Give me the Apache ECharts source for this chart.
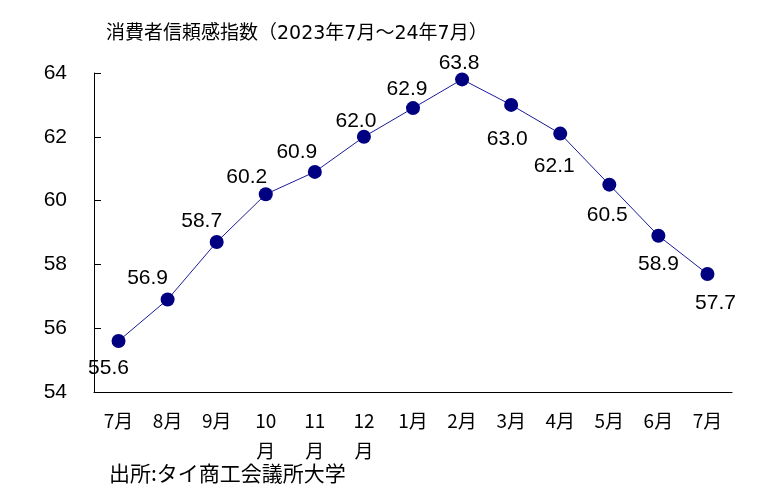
<!DOCTYPE html>
<html>
<head>
<meta charset="utf-8">
<script src="https://cdn.jsdelivr.net/npm/echarts@6/dist/echarts.min.js"></script>
<style>
  html, body { margin: 0; padding: 0; background: #fff; }
  #container { width: 777px; height: 503px; }
</style>
</head>
<body>
<div id="container"></div>
<script>
// 月ラベルと指数
var months = ['7月', '8月', '9月', '10月', '11月', '12月', '1月', '2月', '3月', '4月', '5月', '6月', '7月'];
var values = [55.6, 56.9, 58.7, 60.2, 60.9, 62.0, 62.9, 63.8, 63.0, 62.1, 60.5, 58.9, 57.7];
var yTicks = [54, 56, 58, 60, 62, 64];
// ラベルのずらし量 (点の中心から)
var labelOffsets = [[-10, 27], [-20, -21], [-15, -21], [-19, -17], [-18, -20], [-8, -16], [-6, -19],
                    [-3, -16], [-4, 34], [-6, 33], [-2, 31], [0, 29], [8, 29]];

var numFont = '"Liberation Sans", Arial, sans-serif';
var jpFont = '"Noto Sans CJK JP", sans-serif';
var titleFont = '"DejaVu Sans", "Noto Sans CJK JP", sans-serif';

var dom = document.getElementById('container');
var myChart = echarts.init(dom);

var seriesData = values.map(function (v, i) {
    return {
        value: v,
        label: { offset: labelOffsets[i] }
    };
});

var option = {
    animation: false,
    title: [{
        text: '消費者信頼感指数（2023年7月～24年7月）',
        left: 101,
        top: 20,
        textStyle: { fontFamily: titleFont, fontSize: 19, fontWeight: 'normal', color: '#000' }
    }, {
        text: '出所:タイ商工会議所大学',
        left: 104,
        top: 458,
        textStyle: { fontFamily: jpFont, fontSize: 21, fontWeight: 'normal', color: '#000' }
    }],
    grid: { left: 94, right: 45, top: 73, bottom: 111 },
    xAxis: {
        type: 'category',
        data: months,
        boundaryGap: true,
        axisLine: { lineStyle: { color: '#000', width: 1 } },
        axisTick: { inside: true, length: 8, lineStyle: { color: '#000' } },
        axisLabel: {
            color: '#000',
            fontFamily: jpFont,
            fontSize: 19,
            margin: 14,
            lineHeight: 30,
            interval: 0,
            formatter: function (s) {
                return s.length > 2 ? s.slice(0, s.length - 1) + '\n' + s.slice(-1) : s;
            }
        }
    },
    yAxis: {
        type: 'value',
        min: yTicks[0],
        max: yTicks[yTicks.length - 1],
        interval: 2,
        axisLine: { show: true, lineStyle: { color: '#000', width: 1 } },
        axisTick: { show: true, inside: true, length: 7, lineStyle: { color: '#000' } },
        splitLine: { show: false },
        axisLabel: { color: '#000', fontFamily: numFont, fontSize: 21, margin: 27 }
    },
    series: [{
        type: 'line',
        data: seriesData,
        symbol: 'circle',
        symbolSize: 14,
        lineStyle: { color: '#1a1a99', width: 1 },
        itemStyle: { color: '#000080' },
        label: {
            show: true,
            position: 'inside',
            align: 'center',
            verticalAlign: 'middle',
            color: '#000',
            fontFamily: numFont,
            fontSize: 21,
            formatter: function (p) { return p.value.toFixed(1); }
        }
    }]
};
myChart.setOption(option, true);
</script>
</body>
</html>
